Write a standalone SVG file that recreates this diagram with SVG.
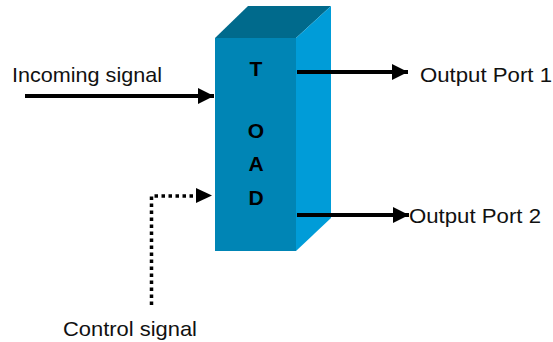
<svg xmlns="http://www.w3.org/2000/svg" width="553" height="342" viewBox="0 0 553 342">
  <style>
    .label { font-family: "Liberation Sans", Arial, sans-serif; font-size: 21px; fill: #111; }
    .letter { font-family: "Liberation Sans", Arial, sans-serif; font-size: 21px; font-weight: bold; fill: #000; text-anchor: middle; }
    .wire { stroke: #000; stroke-width: 4; fill: none; }
    .dotted { stroke: #000; stroke-width: 3.5; fill: none; stroke-dasharray: 3.5 3.5; }
  </style>
  <defs>
    <marker id="head" viewBox="0 0 16 16" refX="16" refY="8" markerWidth="16" markerHeight="16" markerUnits="userSpaceOnUse" orient="auto">
      <path d="M0,0 L16,8 L0,16 Z" fill="#000"/>
    </marker>
  </defs>
  <rect width="553" height="342" fill="#fff"/>

  <!-- TOAD block drawn as a 3D box -->
  <g id="toad">
    <polygon points="215,38 248,6 331,6 296,38" fill="#006A8C"/>
    <polygon points="296,38 331,6 331,218 296,251" fill="#009CD8"/>
    <rect x="215" y="38" width="81" height="213" fill="#0085B5"/>
    <text class="letter" x="256" y="76">T</text>
    <text class="letter" x="256" y="138">O</text>
    <text class="letter" x="256" y="171">A</text>
    <text class="letter" x="256" y="205">D</text>
  </g>

  <g id="incoming-label">
    <text class="label" x="12" y="82" textLength="150" lengthAdjust="spacingAndGlyphs">Incoming signal</text>
  </g>
  <g id="control-label">
    <text class="label" x="63" y="336" textLength="134" lengthAdjust="spacingAndGlyphs">Control signal</text>
  </g>
  <g id="port1-label">
    <text class="label" x="420" y="82" textLength="132" lengthAdjust="spacingAndGlyphs">Output Port 1</text>
  </g>
  <g id="port2-label">
    <text class="label" x="409" y="223" textLength="132" lengthAdjust="spacingAndGlyphs">Output Port 2</text>
  </g>

  <g id="connectors">
    <line class="wire" x1="25" y1="96" x2="214" y2="96" marker-end="url(#head)"/>
    <path class="dotted" d="M151.5,305 L151.5,196 L200,196"/>
    <path d="M196,188 L212,195.5 L196,203 Z" fill="#000"/>
    <line class="wire" x1="297" y1="72" x2="408" y2="72" marker-end="url(#head)"/>
    <line class="wire" x1="297" y1="215" x2="409" y2="215" marker-end="url(#head)"/>
  </g>
</svg>
